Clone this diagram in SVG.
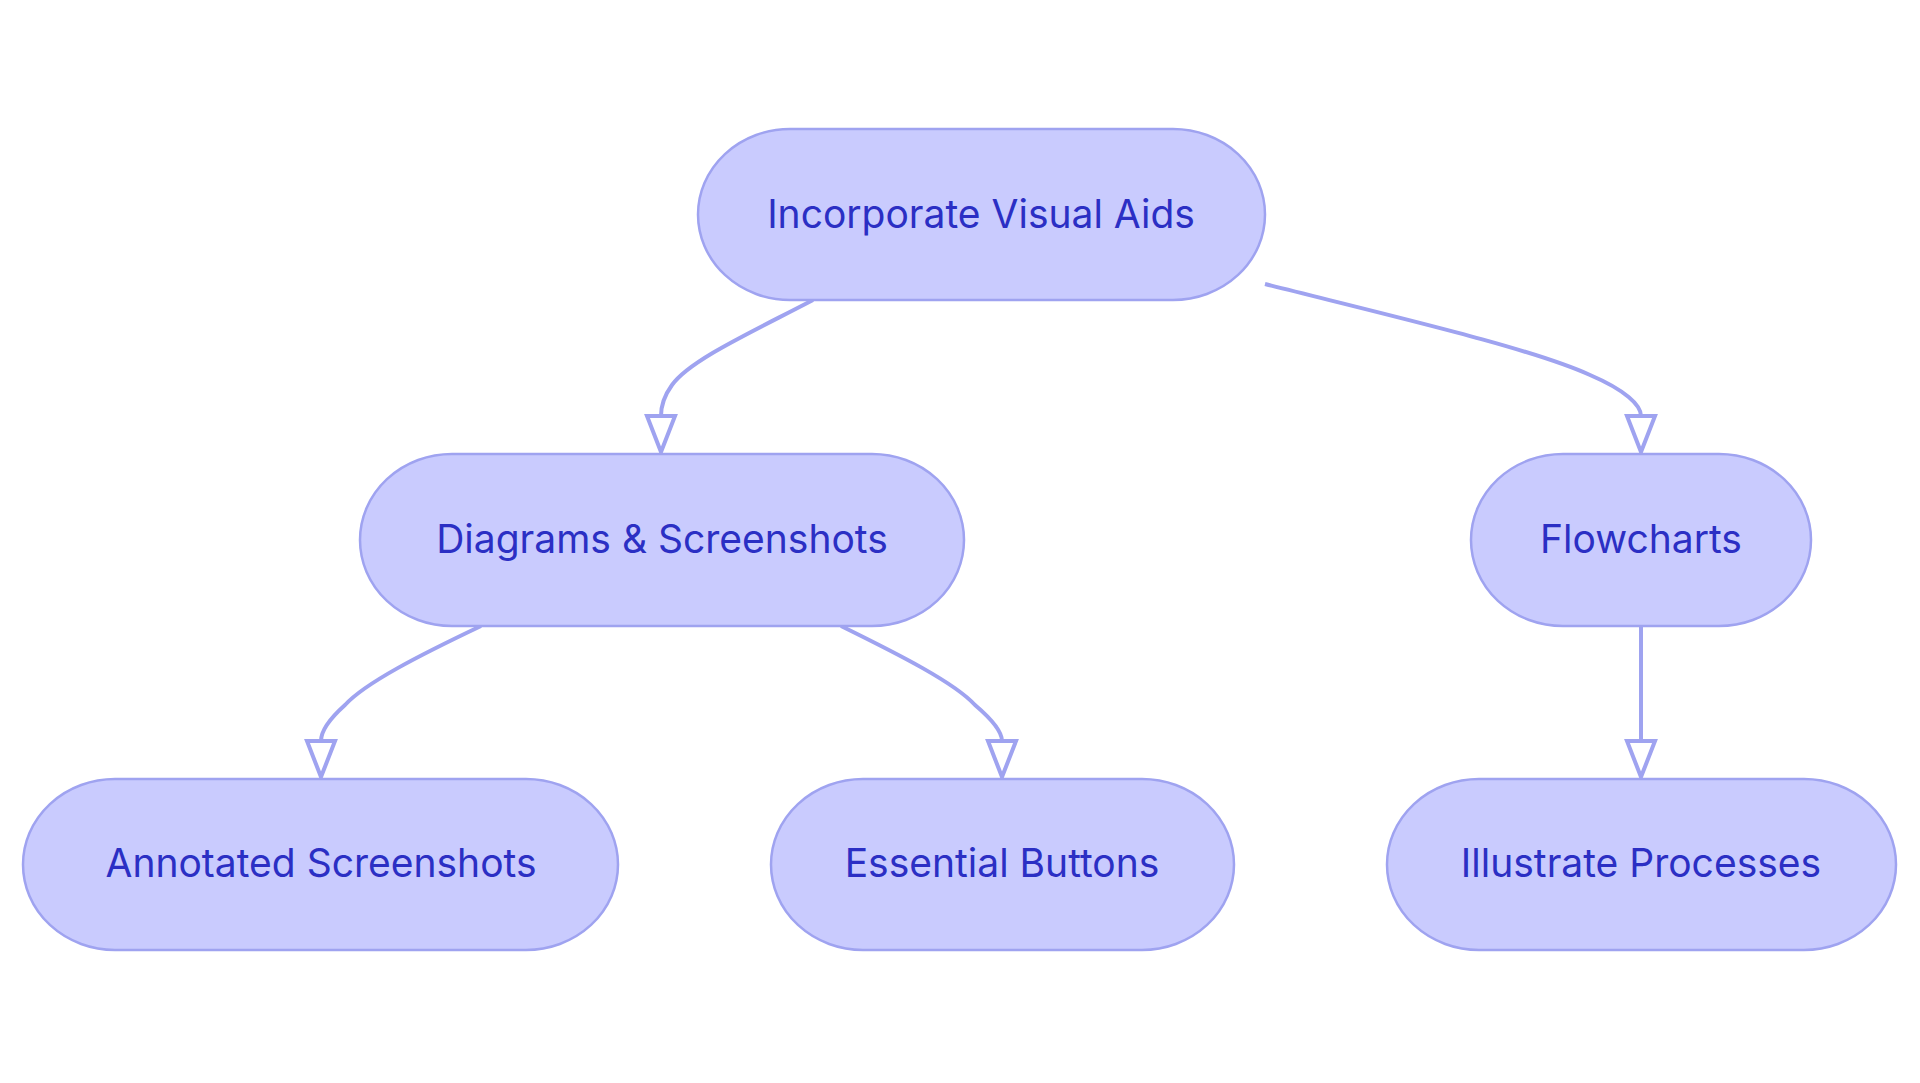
<svg xmlns="http://www.w3.org/2000/svg" width="1920" height="1083" viewBox="0 0 1920 1083">
<style>
.n rect{fill:#c9cbfe;stroke:#9fa3f0;stroke-width:2.5}
.n text{font-family:Inter,"Noto Sans",sans-serif;font-size:39px;fill:#2b2fc4;text-anchor:middle;dominant-baseline:central}
.e path{fill:none;stroke:#9fa3f0;stroke-width:4}
</style>
<defs><marker id="a" markerWidth="10" markerHeight="10" refX="5" refY="9" orient="auto-start-reverse" markerUnits="userSpaceOnUse" viewBox="0 0 10 10"><path d="M0,0 L10,0 L5,10Z" fill="#9fa3f0"/></marker></defs>
<rect width="1920" height="1083" fill="#fff"/>
<g class="e">
<path d="M813,300 C750,333 690,360 672,385 C664,396 661,405 661,416"/>
<path d="M1265,284 C1400,318 1530,348 1590,375 C1625,390 1641,405 1641,416"/>
<path d="M481,626 C420,655 365,683 345,705 C326,722 321,733 321,741"/>
<path d="M841,626 C900,655 955,683 975,705 C995,722 1002,733 1002,741"/>
<path d="M1641,626 L1641,741"/>
<g fill="#9fa3f0"><path d="M647,416 L675,416 L661,452Z"/><path d="M1627,416 L1655,416 L1641,452Z"/><path d="M307,741 L335,741 L321,777Z"/><path d="M988,741 L1016,741 L1002,777Z"/><path d="M1627,741 L1655,741 L1641,777Z"/></g>
</g>
<g id="n1" class="n"><rect x="698" y="129" width="567" height="171" rx="92" ry="86"/><text x="981" y="213">Incorporate Visual Aids</text></g>
<g id="n2" class="n"><rect x="360" y="454" width="604" height="172" rx="92" ry="86"/><text x="662" y="538">Diagrams &amp; Screenshots</text></g>
<g id="n3" class="n"><rect x="1471" y="454" width="340" height="172" rx="92" ry="86"/><text x="1641" y="538">Flowcharts</text></g>
<g id="n4" class="n"><rect x="23" y="779" width="595" height="171" rx="92" ry="86"/><text x="321" y="862">Annotated Screenshots</text></g>
<g id="n5" class="n"><rect x="771" y="779" width="463" height="171" rx="92" ry="86"/><text x="1002" y="862">Essential Buttons</text></g>
<g id="n6" class="n"><rect x="1387" y="779" width="509" height="171" rx="92" ry="86"/><text x="1641" y="862">Illustrate Processes</text></g>
</svg>
